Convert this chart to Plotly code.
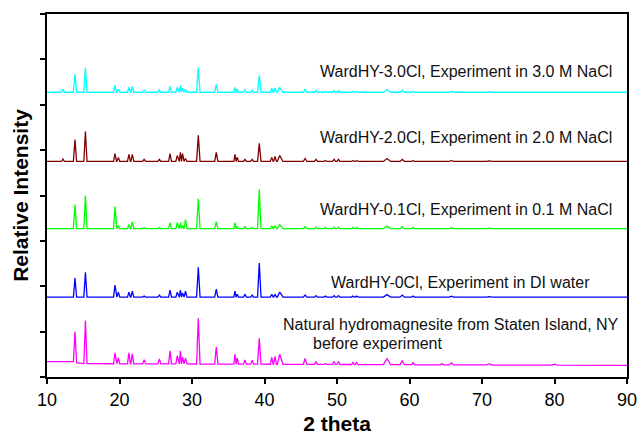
import numpy as np
import plotly.graph_objects as go

# ---------------- data ----------------
# peak positions (2 theta, degrees) shared by all patterns
peak_2theta = [12.2, 13.86, 15.3, 19.38, 19.84, 21.3, 21.77, 23.4, 25.5, 26.97,
               27.97, 28.4, 28.7, 29.1, 30.87, 33.35, 35.93, 36.25, 37.3, 38.3,
               39.28, 41.0, 41.45, 42.1, 45.6, 47.1, 48.4, 49.6, 50.2, 52.2,
               52.7, 56.9, 59.0, 60.5, 64.5, 65.8, 71.0, 80.0]
# peak half widths at the foot (degrees)
peak_halfwidth = [0.2, 0.22, 0.22, 0.2, 0.2, 0.2, 0.2, 0.2, 0.2, 0.2,
                  0.2, 0.15, 0.15, 0.2, 0.24, 0.22, 0.16, 0.16, 0.2, 0.2,
                  0.24, 0.2, 0.2, 0.45, 0.25, 0.2, 0.2, 0.2, 0.2, 0.2,
                  0.2, 0.5, 0.3, 0.2, 0.3, 0.3, 0.4, 0.4]

# peak intensities (a.u.) for each sample
int_natural = [0, 680, 950, 240, 130, 240, 220, 90, 110, 290,
               180, 290, 150, 130, 1010, 375, 220, 130, 90, 90,
               570, 150, 175, 220, 130, 65, 22, 65, 65, 45,
               45, 130, 90, 45, 22, 45, 22, 22]
int_0cl = [10, 420, 550, 265, 110, 110, 130, 22, 45, 155,
           110, 155, 90, 130, 660, 175, 130, 65, 65, 45,
           750, 65, 65, 110, 45, 33, 22, 33, 33, 22,
           22, 55, 45, 22, 11, 22, 11, 7]
int_01cl = [10, 530, 730, 485, 65, 90, 155, 22, 22, 130,
            130, 130, 65, 200, 660, 155, 130, 45, 45, 22,
            860, 65, 65, 90, 45, 33, 22, 33, 33, 22,
            22, 55, 45, 22, 11, 22, 11, 7]
int_20cl = [55, 485, 660, 175, 90, 155, 155, 45, 45, 175,
            130, 200, 175, 65, 575, 200, 155, 90, 45, 45,
            400, 90, 110, 130, 65, 45, 22, 45, 45, 22,
            22, 65, 45, 22, 11, 22, 11, 7]
int_30cl = [65, 400, 550, 155, 65, 110, 130, 45, 45, 130,
            110, 155, 90, 65, 550, 175, 110, 65, 45, 45,
            375, 90, 90, 110, 65, 45, 22, 33, 33, 22,
            22, 55, 45, 22, 11, 22, 11, 7]

# baseline (offset) of each stacked pattern: knots in 2 theta and a.u.
base_x_natural = [10, 13.6, 14.3, 90]
base_y_natural = [340, 340, 295, 255]
base_0cl = 1760
base_01cl = 3270
base_20cl = 4750
base_30cl = 6275

labels = ["Natural hydromagnesite from Staten Island, NY<br>before experiment",
          "WardHY-0Cl, Experiment in DI water",
          "WardHY-0.1Cl, Experiment in 0.1 M NaCl",
          "WardHY-2.0Cl, Experiment in 2.0 M NaCl",
          "WardHY-3.0Cl, Experiment in 3.0 M NaCl"]
colors = ["#FF00FF", "#0000FF", "#00FF00", "#800000", "#00FFFF"]

x_ticks = [10, 20, 30, 40, 50, 60, 70, 80, 90]


# ---------------- build stick-peak profiles ----------------
def profile(heights, bx, by):
    n = len(peak_2theta)
    xs, ys = [10.0], [float(np.interp(10.0, bx, by))]
    for i in range(n):
        h = heights[i]
        if h <= 0:
            continue
        p = peak_2theta[i]
        hw = peak_halfwidth[i]
        lo = p - hw
        hi = p + hw
        if i > 0:
            lo = max(lo, (peak_2theta[i - 1] + p) / 2)
        if i < n - 1:
            hi = min(hi, (peak_2theta[i + 1] + p) / 2)
        for xv, add in ((lo, 0.0), (p, h), (hi, 0.0)):
            xs.append(xv)
            ys.append(float(np.interp(xv, bx, by)) + add)
    xs.append(90.0)
    ys.append(float(np.interp(90.0, bx, by)))
    return xs, ys


series = [
    (int_natural, base_x_natural, base_y_natural),
    (int_0cl, [10, 90], [base_0cl, base_0cl]),
    (int_01cl, [10, 90], [base_01cl, base_01cl]),
    (int_20cl, [10, 90], [base_20cl, base_20cl]),
    (int_30cl, [10, 90], [base_30cl, base_30cl]),
]

FONT = "Liberation Sans, Arial, Helvetica, sans-serif"

fig = go.Figure()
for (h, bx, by), col, lab in zip(series, colors, labels):
    xs, ys = profile(h, bx, by)
    fig.add_trace(go.Scatter(x=xs, y=ys, mode="lines", name=lab,
                             line=dict(color=col, width=1.3),
                             showlegend=False))

# text labels next to each pattern
ann = [
    dict(x=88.2, y=6740, text="WardHY-3.0Cl, Experiment in 3.0 M NaCl", xanchor="right"),
    dict(x=88.2, y=5270, text="WardHY-2.0Cl, Experiment in 2.0 M NaCl", xanchor="right"),
    dict(x=88.2, y=3700, text="WardHY-0.1Cl, Experiment in 0.1 M NaCl", xanchor="right"),
    dict(x=67.0, y=2090, text="WardHY-0Cl, Experiment in DI water", xanchor="center"),
    dict(x=89.2, y=1150, text="Natural hydromagnesite from Staten Island, NY", xanchor="right"),
    dict(x=55.6, y=730, text="before experiment", xanchor="center"),
]
for a in ann:
    fig.add_annotation(x=a["x"], y=a["y"], text=a["text"], xanchor=a["xanchor"],
                       yanchor="middle", showarrow=False,
                       font=dict(family=FONT, size=16, color="#111111"))

fig.update_layout(
    width=639, height=435,
    margin=dict(l=47, r=12, t=14, b=58),
    paper_bgcolor="white", plot_bgcolor="white",
    font=dict(family=FONT, color="black"),
)
fig.update_xaxes(
    range=[10, 90], tickvals=x_ticks, ticktext=[str(v) for v in x_ticks],
    ticks="outside", ticklen=5, tickwidth=1.5, tickcolor="black",
    showline=True, linecolor="black", linewidth=2, mirror=True,
    showgrid=False, zeroline=False, automargin=False,
    tickfont=dict(family=FONT, size=18, color="black"),
    title=dict(text="<b>2 theta</b>", font=dict(family=FONT, size=21, color="black"), standoff=11),
)
fig.update_yaxes(
    range=[0, 8000], tickvals=[1000 * i for i in range(9)],
    ticks="outside", ticklen=5, tickwidth=1.5, tickcolor="black",
    showticklabels=False, automargin=False,
    showline=True, linecolor="black", linewidth=2, mirror=True,
    showgrid=False, zeroline=False,
    title=dict(text="<b>Relative Intensity</b>", font=dict(family=FONT, size=21, color="black"), standoff=6),
)

fig.write_html("out.html")
